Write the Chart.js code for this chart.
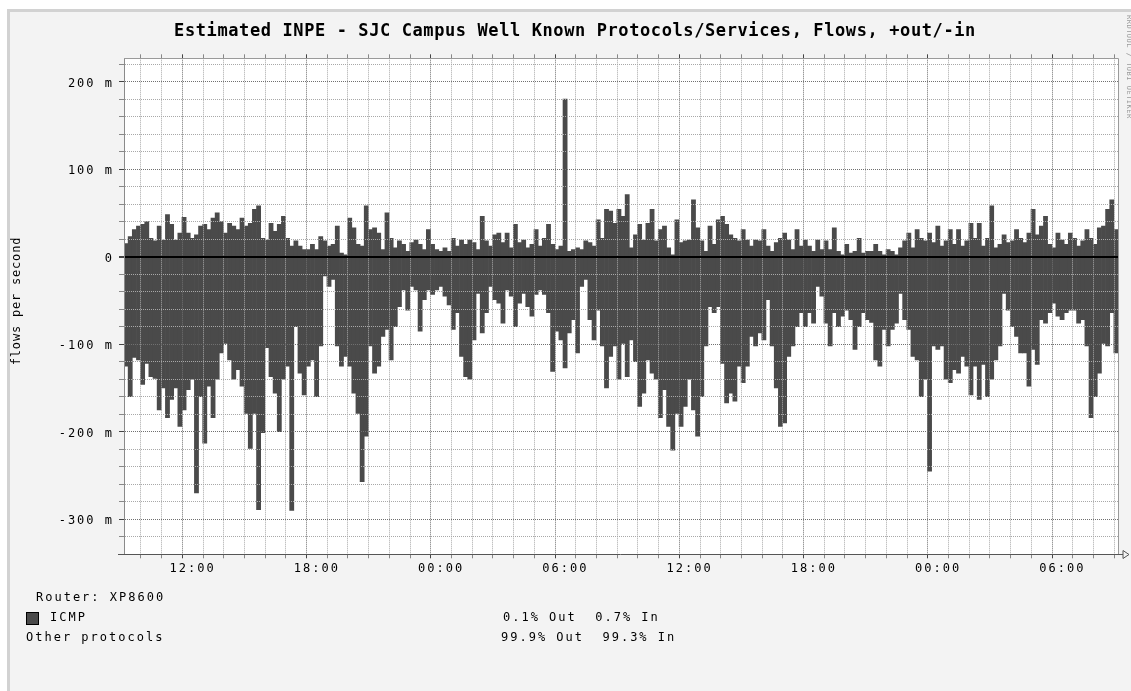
<!DOCTYPE html>
<html lang="en">
<head>
<meta charset="UTF-8" />
<title>Estimated INPE - SJC Campus Well Known Protocols/Services, Flows</title>
<script src="https://cdn.jsdelivr.net/npm/chart.js"></script>
<style>
  html, body { margin: 0; padding: 0; background: #fff; }
  canvas { display: block; }
</style>
</head>
<body>
<canvas id="flowChart" width="1131" height="691"></canvas>
<script>
// ----------- data (flows per second, in "m" = milli) ------------
const startMinute = 521;   // first sample, minutes from midnight of day 1 (08:41)
const stepMinutes = 12;    // one sample every 12 minutes, 48 hours

const outFlows = [
  15, 23, 31, 35, 37, 40, 21, 18, 35, 19, 48, 37, 19, 27, 45, 27, 21, 25, 35, 37,
  31, 44, 50, 40, 27, 38, 35, 31, 44, 35, 38, 54, 58, 21, 19, 38, 29, 37, 46, 21,
  12, 18, 12, 8, 8, 14, 8, 23, 18, 12, 14, 35, 4, 2, 44, 33, 14, 12, 58, 31,
  33, 27, 8, 50, 21, 10, 18, 14, 6, 16, 19, 14, 8, 31, 14, 8, 6, 10, 6, 21,
  12, 19, 14, 19, 16, 8, 46, 18, 12, 25, 27, 16, 27, 10, 37, 16, 19, 10, 14, 31,
  12, 21, 37, 14, 8, 12, 180, 6, 8, 10, 8, 18, 16, 12, 42, 21, 54, 52, 38, 54,
  46, 71, 10, 25, 37, 19, 38, 54, 18, 31, 35, 10, 2, 42, 16, 18, 19, 65, 33, 18,
  6, 35, 14, 42, 46, 37, 25, 21, 18, 31, 19, 12, 19, 18, 31, 12, 6, 16, 21, 27,
  19, 8, 31, 12, 19, 12, 6, 19, 8, 18, 8, 33, 6, 2, 14, 4, 6, 21, 4, 6,
  6, 14, 6, 2, 8, 6, 2, 10, 18, 27, 10, 31, 21, 18, 27, 16, 35, 12, 18, 31,
  14, 31, 12, 18, 38, 21, 38, 12, 21, 58, 10, 14, 25, 16, 18, 31, 21, 16, 27, 54,
  25, 35, 46, 14, 10, 27, 19, 14, 27, 21, 12, 18, 31, 21, 14, 33, 35, 54, 65, 31
];

const inFlows = [
  -125, -160, -115, -118, -146, -122, -137, -139, -175, -150, -184, -163, -150, -194, -175, -152, -140, -270, -160, -213,
  -148, -184, -140, -110, -99, -118, -140, -129, -148, -179, -219, -179, -289, -201, -104, -137, -156, -200, -140, -125,
  -290, -80, -133, -158, -125, -118, -160, -102, -22, -34, -26, -102, -125, -114, -125, -156, -179, -257, -205, -102,
  -133, -125, -91, -83, -118, -80, -57, -38, -61, -34, -38, -85, -49, -38, -43, -38, -34, -45, -55, -83,
  -64, -114, -137, -140, -95, -42, -87, -64, -34, -49, -53, -76, -38, -45, -80, -53, -42, -57, -68, -43,
  -38, -43, -64, -131, -85, -95, -127, -87, -72, -110, -34, -26, -72, -95, -61, -102, -150, -114, -102, -140,
  -99, -137, -95, -120, -171, -156, -118, -133, -140, -184, -152, -194, -221, -179, -194, -171, -140, -175, -205, -160,
  -102, -57, -64, -57, -122, -167, -156, -165, -125, -144, -125, -91, -102, -87, -95, -49, -102, -150, -194, -190,
  -114, -102, -80, -64, -80, -64, -76, -34, -45, -76, -102, -64, -80, -68, -61, -72, -106, -80, -64, -72,
  -75, -118, -125, -83, -102, -83, -76, -42, -72, -83, -114, -118, -160, -140, -245, -102, -106, -102, -140, -144,
  -129, -133, -114, -125, -158, -125, -163, -123, -160, -140, -118, -102, -42, -61, -80, -91, -110, -110, -148, -106,
  -123, -72, -76, -64, -53, -68, -72, -64, -61, -61, -76, -72, -102, -184, -160, -133, -99, -102, -64, -110
];

const yLabelValues = [200, 100, 0, -100, -200, -300];
const yLabels = ['200 m', '100 m', '0', '-100 m', '-200 m', '-300 m'];
const xLabelMinutes = [720, 1080, 1440, 1800, 2160, 2520, 2880, 3240];
const xLabels = ['12:00', '18:00', '00:00', '06:00', '12:00', '18:00', '00:00', '06:00'];

const titleText = 'Estimated INPE - SJC Campus Well Known Protocols/Services, Flows, +out/-in';
const yAxisTitle = 'flows per second';
const routerText = 'Router: XP8600';
const legendNames = ['ICMP', 'Other protocols'];
const legendShares = ['0.1% Out  0.7% In', '99.9% Out  99.3% In'];

// ----------- helpers ------------
const endMinute = startMinute + stepMinutes * outFlows.length;
const toPoints = arr => arr.map((v, i) => ({ x: startMinute + stepMinutes * i + stepMinutes / 2, y: v }));

const hourTicks = [];
for (let m = Math.ceil(startMinute / 60) * 60; m < endMinute; m += 60) hourTicks.push(m);
const yTicks = [];
for (let v = -320; v <= 220; v += 20) yTicks.push(v);

const FONT = '"DejaVu Sans Mono", "Liberation Mono", monospace';
const BAR = '#4a4a4a';

const tickVal = c => (c && c.tick) ? c.tick.value : NaN;
const isMajorX = c => tickVal(c) % 360 === 0;
const isMajorY = c => tickVal(c) % 100 === 0;
const isZero = c => tickVal(c) === 0;

// ----------- background, frame, title, legend ------------
const rrdFrame = {
  id: 'rrdFrame',
  beforeDraw(chart) {
    const { ctx, chartArea: a, width, height } = chart;
    ctx.save();
    ctx.fillStyle = '#ffffff';
    ctx.fillRect(0, 0, width, height);
    ctx.fillStyle = '#d2d2d2';
    ctx.fillRect(7, 9, width - 7, height - 9);
    ctx.fillStyle = '#f3f3f3';
    ctx.fillRect(10, 12, width - 10, height - 12);
    ctx.fillStyle = '#ffffff';
    ctx.fillRect(a.left, a.top, a.right - a.left, a.bottom - a.top);
    ctx.restore();
    ctx.letterSpacing = '2px';
  },
  afterDraw(chart) {
    const { ctx, chartArea: a } = chart;
    ctx.save();
    // top and right edges of the plot
    ctx.strokeStyle = '#9a9a9a';
    ctx.lineWidth = 1;
    ctx.beginPath();
    ctx.moveTo(a.left, Math.round(a.top) + 0.5);
    ctx.lineTo(a.right, Math.round(a.top) + 0.5);
    ctx.moveTo(Math.round(a.right) + 0.5, a.top);
    ctx.lineTo(Math.round(a.right) + 0.5, a.bottom);
    ctx.stroke();
    // x axis line with arrow
    const yb = Math.round(a.bottom) + 0.5;
    ctx.strokeStyle = '#555';
    ctx.beginPath();
    ctx.moveTo(a.left - 6, yb);
    ctx.lineTo(a.right + 5, yb);
    ctx.stroke();
    ctx.beginPath();
    ctx.moveTo(a.right + 5, yb - 4);
    ctx.lineTo(a.right + 11, yb);
    ctx.lineTo(a.right + 5, yb + 4);
    ctx.closePath();
    ctx.stroke();

    ctx.fillStyle = '#000';
    ctx.textBaseline = 'middle';
    // title
    ctx.letterSpacing = '0.6px';
    ctx.font = 'bold 17px ' + FONT;
    ctx.textAlign = 'center';
    ctx.fillText(titleText, 575, 32);
    // y axis title
    ctx.save();
    ctx.translate(17, 301);
    ctx.rotate(-Math.PI / 2);
    ctx.letterSpacing = '0.8px';
    ctx.font = '12px ' + FONT;
    ctx.fillText(yAxisTitle, 0, 0);
    ctx.restore();
    // legend block
    ctx.letterSpacing = '2px';
    ctx.font = '12px ' + FONT;
    ctx.textAlign = 'left';
    ctx.fillText(routerText, 36, 597.5);
    ctx.fillStyle = BAR;
    ctx.fillRect(26.5, 612.5, 12, 12);
    ctx.strokeStyle = '#000';
    ctx.strokeRect(26.5, 612.5, 12, 12);
    ctx.fillStyle = '#000';
    ctx.fillText(legendNames[0], 50, 618);
    ctx.fillText(legendNames[1], 26, 637.5);
    ctx.fillText(legendShares[0], 503, 618);
    ctx.fillText(legendShares[1], 501, 637.5);
    // tool credit along the right edge
    ctx.save();
    ctx.translate(1129, 15);
    ctx.rotate(Math.PI / 2);
    ctx.letterSpacing = '0.5px';
    ctx.font = '7px ' + FONT;
    ctx.fillStyle = '#9a9a9a';
    ctx.fillText('RRDTOOL / TOBI OETIKER', 0, 0);
    ctx.restore();
    ctx.restore();
  }
};

// ----------- chart ------------
new Chart(document.getElementById('flowChart'), {
  type: 'bar',
  data: {
    datasets: [
      { label: 'ICMP out', data: toPoints(outFlows), backgroundColor: BAR, borderWidth: 0 },
      { label: 'ICMP in', data: toPoints(inFlows), backgroundColor: BAR, borderWidth: 0 }
    ]
  },
  options: {
    responsive: false,
    animation: false,
    grouped: false,
    barPercentage: 1,
    categoryPercentage: 1,
    layout: { padding: { left: 0, right: 13, top: 58.3, bottom: 106.7 } },
    plugins: {
      legend: { display: false },
      title: { display: false },
      tooltip: { enabled: false }
    },
    scales: {
      x: {
        type: 'linear',
        position: 'bottom',
        min: startMinute,
        max: endMinute,
        offset: false,
        afterBuildTicks: s => { s.ticks = hourTicks.map(v => ({ value: v })); },
        afterFit: s => { s.height = 30; },
        ticks: {
          autoSkip: false,
          maxRotation: 0,
          padding: 3,
          color: '#000',
          font: { family: FONT, size: 12 },
          callback: v => {
            const k = xLabelMinutes.indexOf(v);
            return k >= 0 ? xLabels[k] : '';
          }
        },
        grid: {
          z: 1,
          color: c => isMajorX(c) ? '#707070' : '#a8a8a8',
          lineWidth: 1,
          tickLength: 4,
          tickColor: c => isMajorX(c) ? '#444' : '#888'
        },
        border: { display: false, dash: [1, 1] }
      },
      xTop: {
        type: 'linear',
        position: 'top',
        min: startMinute,
        max: endMinute,
        offset: false,
        afterBuildTicks: s => { s.ticks = hourTicks.map(v => ({ value: v })); },
        afterFit: s => { s.height = 0; },
        ticks: { display: false },
        grid: {
          z: 1,
          drawOnChartArea: false,
          tickLength: 4,
          tickColor: c => isMajorX(c) ? '#444' : '#888'
        },
        border: { display: false }
      },
      y: {
        type: 'linear',
        position: 'left',
        min: -340,
        max: 226.6,
        afterBuildTicks: s => { s.ticks = yTicks.map(v => ({ value: v })); },
        afterFit: s => { s.width = 124; },
        ticks: {
          autoSkip: false,
          padding: 5,
          labelOffset: 2,
          color: '#000',
          font: { family: FONT, size: 12 },
          callback: v => {
            const k = yLabelValues.indexOf(v);
            return k >= 0 ? yLabels[k] : '';
          }
        },
        grid: {
          z: 1,
          color: c => isZero(c) ? '#000' : (isMajorY(c) ? '#707070' : '#a8a8a8'),
          lineWidth: c => isZero(c) ? 2 : 1,
          tickLength: 5,
          tickColor: c => isMajorY(c) ? '#444' : '#888'
        },
        border: {
          z: 1,
          display: true,
          color: '#8a8a8a',
          dash: c => isZero(c) ? [] : [1, 1]
        }
      }
    }
  },
  plugins: [rrdFrame]
});
</script>
</body>
</html>
